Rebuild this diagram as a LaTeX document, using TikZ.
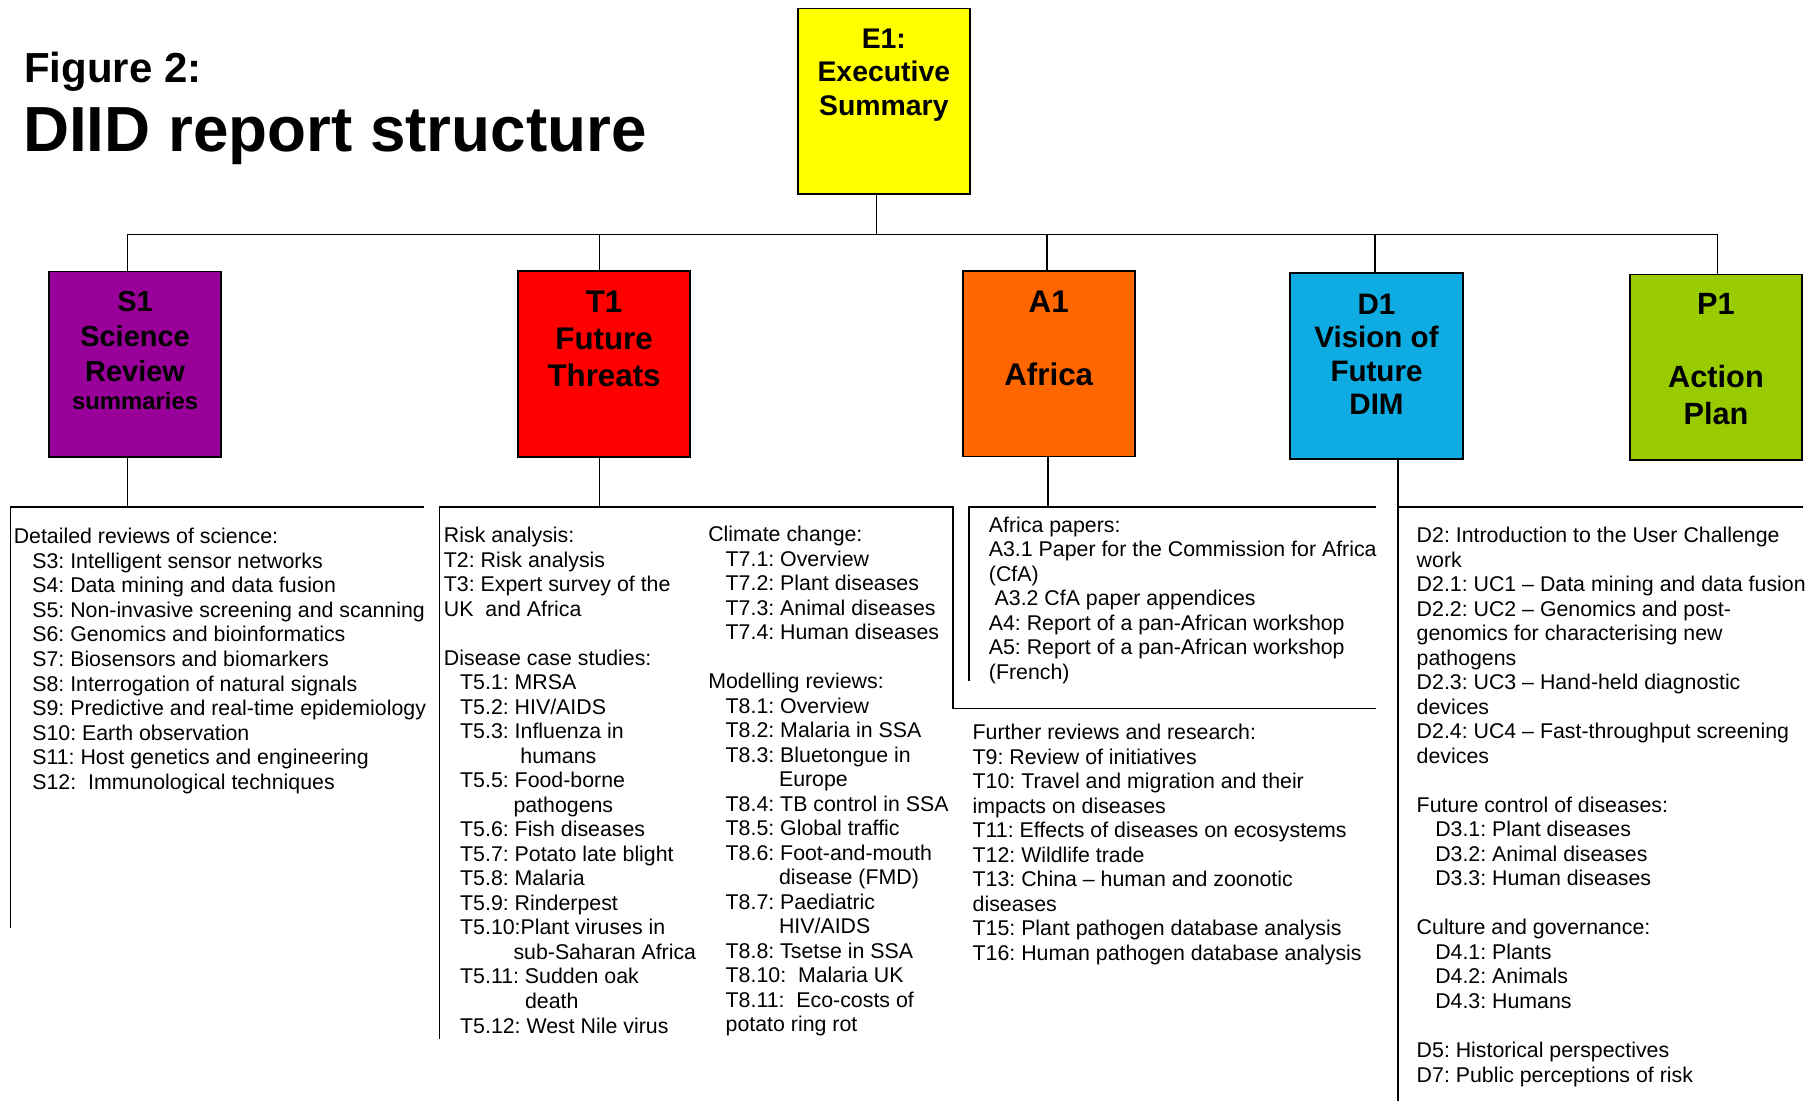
\documentclass[tikz,border=0pt]{standalone}
\usepackage{fontspec}
\setmainfont{Liberation Sans}
\usepackage{tikz}
\frenchspacing
\definecolor{eYellow}{HTML}{FFFF00}
\definecolor{sPurple}{HTML}{990099}
\definecolor{tRed}{HTML}{FF0000}
\definecolor{aOrange}{HTML}{FF6600}
\definecolor{dBlue}{HTML}{0EACE2}
\definecolor{pGreen}{HTML}{99CC00}
\begin{document}
\begin{tikzpicture}[x=0.5pt,y=-0.5pt,
  secbox/.style={draw, line width=0.8pt, minimum width=74.25pt, minimum height=80pt, inner sep=0pt},
  boxlbl/.style={anchor=north, align=center, inner sep=0pt},
  lst/.style={anchor=north west, align=left, inner sep=0pt, font=\fontsize{9.2}{10.57}\selectfont},
  conn/.style={line width=0.6pt},
  brk/.style={line width=0.8pt}]
\useasboundingbox (0,0) rectangle (1568,950);
\node[anchor=base west, inner sep=0pt, font=\bfseries\fontsize{18.1}{20}\selectfont] (fig) at (20.5,71) {Figure 2:};
\node[anchor=base west, inner sep=0pt, font=\bfseries\fontsize{27.5}{30}\selectfont] (ttl) at (19.5,131) {DIID report structure};

\node[secbox, fill=eYellow] (E1) at (762.3,87.3) {};
\node[secbox, fill=sPurple] (S1) at (116.5,314.2) {};
\node[secbox, fill=tRed] (T1) at (521,314) {};
\node[secbox, fill=aOrange] (A1) at (904.5,313.7) {};
\node[secbox, fill=dBlue] (D1) at (1187.2,315.8) {};
\node[secbox, fill=pGreen] (P1) at (1480,316.8) {};

\node[boxlbl, font=\bfseries\fontsize{12.25}{14.5}\selectfont] (E1t) at (762.3,24.2) {E1:\\Executive\\Summary};
\node[boxlbl, font=\bfseries\fontsize{12.5}{15}\selectfont] (S1t) at (116.5,251) {S1\\Science\\Review\\[-2.8pt]{\fontsize{10.3}{12}\selectfont summaries}};
\node[boxlbl, font=\bfseries\fontsize{13.5}{16}\selectfont] (T1t) at (521,250.3) {T1\\Future\\Threats};
\node[boxlbl, font=\bfseries\fontsize{13.5}{15.75}\selectfont] (A1t) at (904.5,250.3) {A1\\ \\Africa};
\node[boxlbl, font=\bfseries\fontsize{12.75}{14.5}\selectfont] (D1t) at (1187.2,252.9) {D1\\Vision of\\Future\\DIM};
\node[boxlbl, font=\bfseries\fontsize{13.25}{15.85}\selectfont] (P1t) at (1480,252.5) {P1\\ \\Action\\Plan};

\coordinate (bE) at (756,202);
\coordinate (bS) at (110,202);
\coordinate (bT) at (517,202);
\coordinate (bA) at (903,202);
\coordinate (bD) at (1186,202);
\coordinate (bP) at (1481.5,202);
\draw[conn] (E1.south -| bE) -- (bE);
\draw[conn] (bS) -- (bP);
\draw[conn] (bS) -- (bS |- S1.north);
\draw[conn] (bT) -- (bT |- T1.north);
\draw[conn] (bA) -- (bA |- A1.north);
\draw[conn] (bD) -- (bD |- D1.north);
\draw[conn] (bP) -- (bP |- P1.north);

\coordinate (jS) at (110,437);
\coordinate (jT) at (517,437);
\coordinate (jA) at (904,437);
\coordinate (jD) at (1206,437);
\draw[conn] (jS |- S1.south) -- (jS);
\draw[conn] (jT |- T1.south) -- (jT);
\draw[conn] (jA |- A1.south) -- (jA);
\draw[brk] (jD |- D1.south) -- (1206,950);

\draw[brk] (366,437) -- (9,437) -- (9,800);
\draw[brk] (379,896) -- (379,437) -- (822,437) -- (822,611) -- (1187,611);
\draw[brk] (1187,437) -- (836,437) -- (836,587);
\draw[brk] (jD) -- (1555,437);

\node[lst] (Sl) at (11.5,455.4) {Detailed reviews of science:\\
\hspace*{8pt}S3: Intelligent sensor networks\\
\hspace*{8pt}S4: Data mining and data fusion\\
\hspace*{8pt}S5: Non-invasive screening and scanning\\
\hspace*{8pt}S6: Genomics and bioinformatics\\
\hspace*{8pt}S7: Biosensors and biomarkers\\
\hspace*{8pt}S8: Interrogation of natural signals\\
\hspace*{8pt}S9: Predictive and real-time epidemiology\\
\hspace*{8pt}S10: Earth observation\\
\hspace*{8pt}S11: Host genetics and engineering\\
\hspace*{8pt}S12:\ \ Immunological techniques};

\node[lst] (Tl) at (382.5,454.4) {Risk analysis:\\
T2: Risk analysis\\
T3: Expert survey of the\\
UK\ \ and Africa\\
\\
Disease case studies:\\
\hspace*{7pt}T5.1: MRSA\\
\hspace*{7pt}T5.2: HIV/AIDS\\
\hspace*{7pt}T5.3: Influenza in\\
\hspace*{33pt}humans\\
\hspace*{7pt}T5.5: Food-borne\\
\hspace*{30pt}pathogens\\
\hspace*{7pt}T5.6: Fish diseases\\
\hspace*{7pt}T5.7: Potato late blight\\
\hspace*{7pt}T5.8: Malaria\\
\hspace*{7pt}T5.9: Rinderpest\\
\hspace*{7pt}T5.10:Plant viruses in\\
\hspace*{30pt}sub-Saharan Africa\\
\hspace*{7pt}T5.11: Sudden oak\\
\hspace*{35pt}death\\
\hspace*{7pt}T5.12: West Nile virus};

\node[lst] (Tm) at (610.5,453.4) {Climate change:\\
\hspace*{7.5pt}T7.1: Overview\\
\hspace*{7.5pt}T7.2: Plant diseases\\
\hspace*{7.5pt}T7.3: Animal diseases\\
\hspace*{7.5pt}T7.4: Human diseases\\
\\
Modelling reviews:\\
\hspace*{7.5pt}T8.1: Overview\\
\hspace*{7.5pt}T8.2: Malaria in SSA\\
\hspace*{7.5pt}T8.3: Bluetongue in\\
\hspace*{30.5pt}Europe\\
\hspace*{7.5pt}T8.4: TB control in SSA\\
\hspace*{7.5pt}T8.5: Global traffic\\
\hspace*{7.5pt}T8.6: Foot-and-mouth\\
\hspace*{30.5pt}disease (FMD)\\
\hspace*{7.5pt}T8.7: Paediatric\\
\hspace*{30.5pt}HIV/AIDS\\
\hspace*{7.5pt}T8.8: Tsetse in SSA\\
\hspace*{7.5pt}T8.10:\ \ Malaria UK\\
\hspace*{7.5pt}T8.11:\ \ Eco-costs of\\
\hspace*{7.5pt}potato ring rot};

\node[lst] (Al) at (852.5,445.4) {Africa papers:\\
A3.1 Paper for the Commission for Africa\\
(CfA)\\
\hspace*{2.5pt}A3.2 CfA paper appendices\\
A4: Report of a pan-African workshop\\
A5: Report of a pan-African workshop\\
(French)};

\node[lst] (Tr) at (838.5,624.4) {Further reviews and research:\\
T9: Review of initiatives\\
T10: Travel and migration and their\\
impacts on diseases\\
T11: Effects of diseases on ecosystems\\
T12: Wildlife trade\\
T13: China – human and zoonotic\\
diseases\\
T15: Plant pathogen database analysis\\
T16: Human pathogen database analysis};

\node[lst] (Dl) at (1221.5,454.4) {D2: Introduction to the User Challenge\\
work\\
D2.1: UC1 – Data mining and data fusion\\
D2.2: UC2 – Genomics and post-\\
genomics for characterising new\\
pathogens\\
D2.3: UC3 – Hand-held diagnostic\\
devices\\
D2.4: UC4 – Fast-throughput screening\\
devices\\
\\
Future control of diseases:\\
\hspace*{8pt}D3.1: Plant diseases\\
\hspace*{8pt}D3.2: Animal diseases\\
\hspace*{8pt}D3.3: Human diseases\\
\\
Culture and governance:\\
\hspace*{8pt}D4.1: Plants\\
\hspace*{8pt}D4.2: Animals\\
\hspace*{8pt}D4.3: Humans\\
\\
D5: Historical perspectives\\
D7: Public perceptions of risk};
\end{tikzpicture}
\end{document}
